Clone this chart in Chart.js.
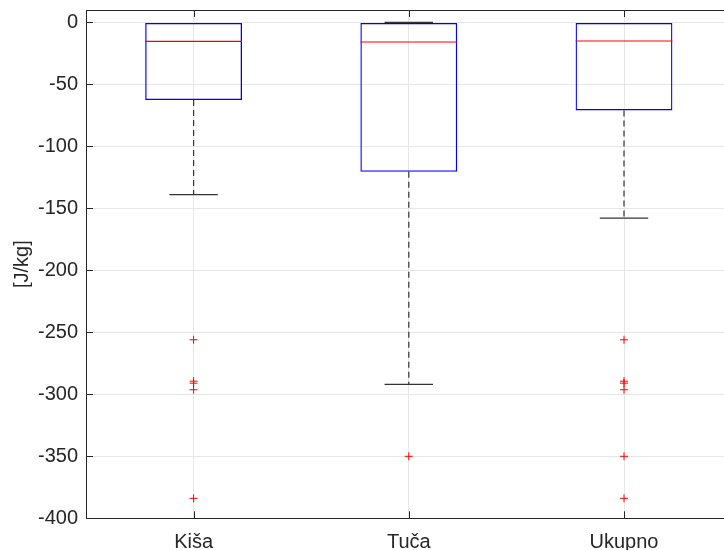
<!DOCTYPE html>
<html>
<head>
<meta charset="utf-8">
<script src="https://cdn.jsdelivr.net/npm/chart.js@4"></script>
<style>
html,body{margin:0;padding:0;overflow:hidden;background:#fff;}
#wrap{width:740px;height:550px;}
</style>
</head>
<body>
<div id="wrap"><canvas id="c" width="740" height="550"></canvas></div>
<script>
const categories = ['Kiša', 'Tuča', 'Ukupno'];
const q1 = [-62.6, -120.5, -71.0];
const q3 = [0, -0.5, 0];
const medians = [-15.3, -15.8, -15.0];
const lowerWhisker = [-139.0, -292.0, -157.9];
const upperWhisker = [0, 0, 0];
const outliersKisa = [-256.0, -289.4, -291.0, -296.3, -383.9];
const outliersTuca = [-350.0];
const outliersUkupno = [-256.0, -289.4, -291.0, -296.3, -350.0, -383.9];
const yTicks = [0, -50, -100, -150, -200, -250, -300, -350, -400];

const outlierPoints = [];
[outliersKisa, outliersTuca, outliersUkupno].forEach((arr, i) => {
  arr.forEach(v => outlierPoints.push({x: categories[i], y: v}));
});

const TXT = '#262626';
const FONT = 'Liberation Sans, Arial, Helvetica, sans-serif';

const boxPlugin = {
  id: 'boxparts',
  beforeDatasetsDraw(chart) {
    const {ctx, scales: {x, y}} = chart;
    const meta = chart.getDatasetMeta(0);
    ctx.save();
    ctx.strokeStyle = '#333';
    ctx.lineWidth = 1.2;
    categories.forEach((c, i) => {
      const cx = x.getPixelForValue(i);
      const bw = meta.data[i].width;
      ctx.setLineDash([6, 4]);
      ctx.beginPath();
      ctx.moveTo(cx, y.getPixelForValue(q1[i]));
      ctx.lineTo(cx, y.getPixelForValue(lowerWhisker[i]));
      if (upperWhisker[i] !== q3[i]) {
        ctx.moveTo(cx, y.getPixelForValue(q3[i]));
        ctx.lineTo(cx, y.getPixelForValue(upperWhisker[i]));
      }
      ctx.stroke();
      ctx.setLineDash([]);
      ctx.beginPath();
      const yl = y.getPixelForValue(lowerWhisker[i]);
      ctx.moveTo(cx - bw / 4, yl); ctx.lineTo(cx + bw / 4, yl);
      if (upperWhisker[i] !== q3[i]) {
        const yu = y.getPixelForValue(upperWhisker[i]);
        ctx.moveTo(cx - bw / 4, yu); ctx.lineTo(cx + bw / 4, yu);
      }
      ctx.stroke();
    });
    ctx.restore();
  },
  afterDatasetsDraw(chart) {
    const {ctx, scales: {x, y}} = chart;
    const meta = chart.getDatasetMeta(0);
    ctx.save();
    ctx.strokeStyle = '#ff0000';
    ctx.lineWidth = 1.2;
    categories.forEach((c, i) => {
      const cx = x.getPixelForValue(i);
      const bw = meta.data[i].width;
      const ym = y.getPixelForValue(medians[i]);
      ctx.beginPath();
      ctx.moveTo(cx - bw / 2, ym); ctx.lineTo(cx + bw / 2, ym);
      ctx.stroke();
    });
    ctx.restore();
  },
  afterDraw(chart) {
    const {ctx, chartArea: a, scales: {x, y}} = chart;
    ctx.save();
    ctx.strokeStyle = TXT;
    ctx.lineWidth = 1;
    ctx.beginPath();
    ctx.moveTo(a.left, a.top + 0.5); ctx.lineTo(a.right, a.top + 0.5);
    ctx.moveTo(a.right - 0.5, a.top); ctx.lineTo(a.right - 0.5, a.bottom);
    const tl = 7;
    yTicks.forEach(v => {
      const py = Math.round(y.getPixelForValue(v)) + 0.5;
      ctx.moveTo(a.left, py); ctx.lineTo(a.left + tl, py);
      ctx.moveTo(a.right, py); ctx.lineTo(a.right - tl, py);
    });
    categories.forEach((c, i) => {
      const px = Math.round(x.getPixelForValue(i)) + 0.5;
      ctx.moveTo(px, a.bottom); ctx.lineTo(px, a.bottom - tl);
      ctx.moveTo(px, a.top); ctx.lineTo(px, a.top + tl);
    });
    ctx.stroke();
    ctx.restore();
  }
};

new Chart(document.getElementById('c'), {
  type: 'bar',
  data: {
    labels: categories,
    datasets: [
      {
        type: 'bar',
        data: categories.map((c, i) => [q1[i], q3[i]]),
        backgroundColor: 'rgba(0,0,0,0)',
        borderColor: '#0000ff',
        borderWidth: 1.3,
        borderSkipped: false,
        barPercentage: 0.45,
        categoryPercentage: 1.0,
        order: 2
      },
      {
        type: 'scatter',
        data: outlierPoints,
        pointStyle: 'cross',
        pointRadius: 4,
        pointBorderColor: '#ff0000',
        pointBorderWidth: 1,
        borderColor: '#ff0000',
        backgroundColor: '#ff0000',
        showLine: false,
        order: 1
      }
    ]
  },
  options: {
    responsive: false,
    animation: false,
    events: [],
    layout: {padding: {top: 10, right: 8.4, left: 0, bottom: 0}},
    plugins: {legend: {display: false}, tooltip: {enabled: false}},
    scales: {
      x: {
        type: 'category',
        offset: true,
        grid: {offset: false, color: '#e6e6e6', drawTicks: false},
        border: {display: true, color: TXT, width: 1},
        ticks: {color: TXT, font: {family: FONT, size: 20}, padding: 12, maxRotation: 0},
        afterFit(s) { s.height = 31.7; s.paddingLeft = 0; s.paddingRight = 0; }
      },
      y: {
        type: 'linear',
        min: -400,
        max: 10,
        grid: {color: '#e6e6e6', drawTicks: false},
        border: {display: true, color: TXT, width: 1},
        ticks: {stepSize: 50, includeBounds: false, color: TXT, font: {family: FONT, size: 20}, padding: 8},
        title: {display: true, text: '[J/kg]', color: TXT, font: {family: FONT, size: 20}, padding: {top: 10, bottom: 0}},
        afterFit(s) { s.width = 86; s.paddingTop = 0; s.paddingBottom = 0; }
      }
    }
  },
  plugins: [boxPlugin]
});
</script>
</body>
</html>
